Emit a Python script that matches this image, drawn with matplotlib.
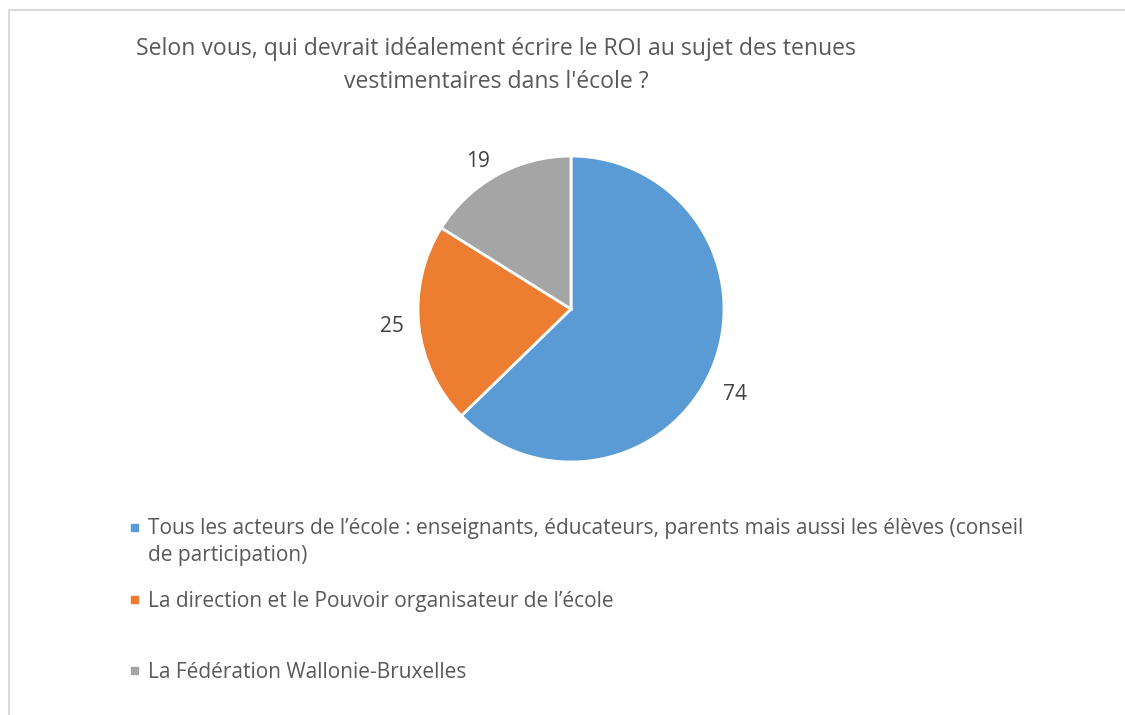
import matplotlib.pyplot as plt
from matplotlib.patches import Rectangle
from matplotlib.lines import Line2D

# data
categories = [
    "Tous les acteurs de l\u2019école : enseignants, éducateurs, parents mais aussi les élèves (conseil\nde participation)",
    "La direction et le Pouvoir organisateur de l\u2019école",
    "La Fédération Wallonie-Bruxelles",
]
values = [74, 25, 19]
colors = ['#5B9BD5', '#ED7D31', '#A5A5A5']
title = "Selon vous, qui devrait idéalement écrire le ROI au sujet des tenues\nvestimentaires dans l'école ?"

plt.rcParams['font.family'] = ['Open Sans', 'DejaVu Sans']
W, H = 1125, 715
fig = plt.figure(figsize=(W / 100, H / 100), dpi=100)

# chart area border (cropped: only top and left visible)
fig.add_artist(Line2D([9 / W, 1], [1 - 10 / H, 1 - 10 / H], color='#D9D9D9', lw=1.5))
fig.add_artist(Line2D([9 / W, 9 / W], [0, 1 - 10 / H], color='#D9D9D9', lw=1.5))

# pie axes
cx, cy, r = 571, 309, 153
lim = 1.6
ax = fig.add_axes([(cx - lim * r) / W, 1 - (cy + lim * r) / H, 2 * lim * r / W, 2 * lim * r / H])
wedges, texts = ax.pie(
    values,
    labels=[str(v) for v in values],
    colors=colors,
    startangle=90,
    counterclock=False,
    labeldistance=1.1,
    wedgeprops={'edgecolor': 'white', 'linewidth': 2},
    textprops={'fontsize': 15, 'color': '#404040'},
)
# Excel puts the big slice's label a bit lower
tx, ty = texts[0].get_position()
texts[0].set_position((tx - 0.02, ty - 0.13))
ax.set_xlim(-lim, lim)
ax.set_ylim(-lim, lim)
ax.set_aspect('equal')
ax.axis('off')

# title (baseline of last line)
fig.text(496 / W, 1 - 88 / H, title, ha='center', va='baseline', fontsize=16.6,
         color='#595959', linespacing=1.51, multialignment='center')

# legend: marker at first line, text anchored on last-line baseline
rows = [535, 607, 678]
for lab, col, y in zip(categories, colors, rows):
    nlines = lab.count('\n')
    fig.add_artist(Rectangle((131 / W, 1 - (y - 4) / H), 7 / W, 7 / H, color=col,
                             transform=fig.transFigure))
    fig.text(148 / W, 1 - (y + 26 * nlines) / H, lab, ha='left', va='baseline',
             fontsize=15, color='#595959', linespacing=1.35)

fig.savefig('out.png', dpi=100)
